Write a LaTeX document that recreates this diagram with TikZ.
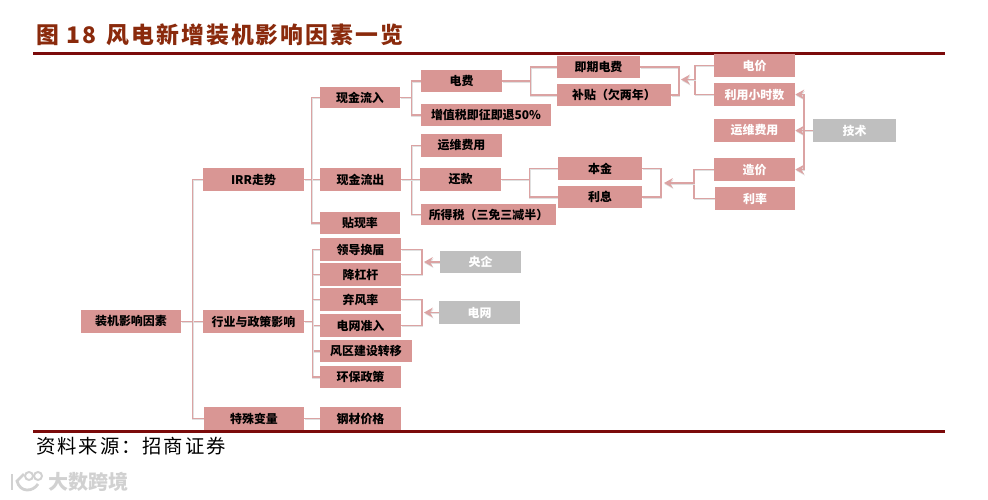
\documentclass[tikz,border=0pt]{standalone}
\usepackage{fontspec}
\usepackage{xcolor}
\usepackage{tikz}
\usetikzlibrary{arrows.meta, positioning}
\setmainfont{Noto Sans CJK SC}
\newfontfamily\titlefont[LetterSpace=9]{Noto Sans CJK SC}
\newfontfamily\sourcefont[LetterSpace=10]{Noto Sans CJK SC}
\definecolor{boxred}{HTML}{D99694}
\definecolor{linkred}{HTML}{DBA3A3}
\definecolor{rulered}{HTML}{7B0A0A}
\definecolor{titlered}{HTML}{8A2A0C}
\definecolor{boxgray}{HTML}{BFBFBF}

\begin{document}
\begin{tikzpicture}[
  x=0.02cm, y=-0.02cm,
  >={Stealth[length=5pt, width=5.5pt]},
  factor/.style={rectangle, fill=boxred, inner sep=0pt, minimum width=1.62cm, minimum height=0.46cm, font=\fontsize{6.8pt}{8pt}\selectfont\bfseries, align=center},
  driver/.style={factor, text=white},
  external/.style={driver, fill=boxgray},
  link/.style={draw=linkred, line width=0.8pt, preaction={draw=black!12, line width=0.8pt, transform canvas={xshift=0.4pt, yshift=-0.7pt}}},
  push/.style={link, ->, line width=1.1pt},
]
  \useasboundingbox (0,0) rectangle (988,500);

  \node[anchor=west, inner sep=0pt, text=titlered, font=\fontsize{13pt}{15pt}\selectfont\titlefont\bfseries] (title) at (36,35) {图 18\hspace{0.45em}风电新增装机影响因素一览};
  \draw[rulered, line width=1.5pt] (33,53.5) coordinate (topleft) -- (945,53.5) coordinate (topright);

  \node[factor, minimum width=2cm] (root) at (131,321.5) {装机影响因素};
  \node[factor, minimum width=2.02cm] (irr) at (253.5,179.5) {IRR走势};
  \node[factor, minimum width=2.02cm] (policy) at (253.5,321.5) {行业与政策影响};
  \node[factor, minimum width=2cm] (special) at (254,418.5) {特殊变量};

  \node[factor, minimum width=1.6cm, minimum height=0.42cm] (inflow) at (360,97.5) {现金流入};
  \node[factor] (outflow) at (360.5,179.5) {现金流出};
  \node[factor, minimum width=1.6cm, minimum height=0.44cm] (discount) at (360,223) {贴现率};

  \node[factor, minimum height=0.44cm] (fee) at (461.5,81) {电费};
  \node[factor, minimum width=2.6cm, minimum height=0.44cm] (vat) at (486,115) {增值税即征即退50\%};
  \node[factor] (om) at (461.5,145.5) {运维费用};
  \node[factor] (repay) at (460.5,179.5) {还款};
  \node[factor, minimum width=2.7cm, minimum height=0.42cm] (tax) at (488.5,214.5) {所得税（三免三减半）};

  \node[factor, minimum width=1.66cm, minimum height=0.44cm] (spot) at (598.5,67) {即期电费};
  \node[factor, minimum width=2.28cm, minimum height=0.44cm] (subsidy) at (614,95) {补贴（欠两年）};
  \node[factor, minimum width=1.68cm] (principal) at (600,168.5) {本金};
  \node[factor, minimum width=1.68cm, minimum height=0.44cm] (interest) at (600,197) {利息};

  \node[driver] (price) at (754.5,65.5) {电价};
  \node[driver] (hours) at (754.5,94.5) {利用小时数};
  \node[driver] (omcost) at (754.5,130.5) {运维费用};
  \node[driver] (cost) at (754.5,169.5) {造价};
  \node[driver, minimum width=1.6cm] (rate) at (755,198.5) {利率};
  \node[external, minimum width=1.66cm] (tech) at (854.5,130.5) {技术};

  \node[factor] (leader) at (360.5,249.5) {领导换届};
  \node[factor] (deleverage) at (360.5,274.5) {降杠杆};
  \node[factor] (curtail) at (360.5,299.5) {弃风率};
  \node[factor] (access) at (360.5,325.5) {电网准入};
  \node[factor, minimum width=1.84cm, minimum height=0.44cm] (zone) at (366,351) {风区建设转移};
  \node[factor, minimum height=0.44cm] (env) at (360.5,377) {环保政策};
  \node[factor] (steel) at (360.5,418.5) {钢材价格};

  \node[external, minimum height=0.44cm] (soe) at (480.5,262) {央企};
  \node[external] (grid) at (479.5,312.5) {电网};

  \coordinate (payback) at (679,79.5);
  \coordinate (paytip) at (681,79.5);
  \coordinate (loanback) at (661,183);
  \coordinate (loantip) at (664,183);
  \coordinate (pricebus) at (695,79.5);
  \coordinate (costbus) at (694,183);
  \coordinate (techbus) at (804,130.5);
  \coordinate (soebus) at (422,262);
  \coordinate (soetip) at (424,262);
  \coordinate (gridbus) at (422,312.5);
  \coordinate (gridtip) at (424,312.5);

  \draw[link] (root) -- (policy);
  \foreach \target in {irr, special}
    \draw[link] (root.east) -- ++(11,0) |- (\target.west);

  \draw[link] (irr) -- (outflow);
  \foreach \target in {inflow, discount}
    \draw[link] (irr.east) -- ++(7,0) |- (\target.west);

  \foreach \target in {fee, vat}
    \draw[link] (inflow.east) -- ++(11,0) |- (\target.west);
  \foreach \target in {om, tax}
    \draw[link] (outflow.east) -- ++(10,0) |- (\target.west);
  \draw[link] (outflow) -- (repay);

  \foreach \target in {spot, subsidy}
    \draw[link] (fee.east) -- ++(28,0) |- (\target.west);
  \foreach \target in {principal, interest}
    \draw[link] (repay.east) -- ++(28,0) |- (\target.west);

  \foreach \target in {leader, deleverage, curtail, access, zone, env}
    \draw[link] (policy.east) -- ++(8,0) |- (\target.west);
  \draw[link] (special) -- (steel);

  \foreach \source in {spot, subsidy}
    \draw[link] (\source.east) -| (payback);
  \foreach \source in {principal, interest}
    \draw[link] (\source.east) -| (loanback);
  \foreach \source in {price, hours}
    \draw[link] (\source.west) -| (pricebus);
  \foreach \source in {cost, rate}
    \draw[link] (\source.west) -| (costbus);
  \foreach \source in {leader, deleverage}
    \draw[link] (\source.east) -| (soebus);
  \foreach \source in {curtail, access}
    \draw[link] (\source.east) -| (gridbus);

  \draw[push] (pricebus) -- (paytip);
  \draw[push] (costbus) -- (loantip);
  \draw[push] (soe) -- (soetip);
  \draw[push] (grid) -- (gridtip);
  \draw[push] (tech) -- (omcost);
  \foreach \target in {hours, cost}
    \draw[push] (techbus) |- (\target.east);

  \draw[rulered, line width=1.5pt] (33,431.5) coordinate (bottomleft) -- (945,431.5) coordinate (bottomright);
  \node[anchor=west, inner sep=0pt, font=\fontsize{11pt}{13pt}\selectfont\sourcefont] (source) at (36,446) {资料来源：招商证券};

  \node[anchor=west, inner sep=0pt, text=black!18, font=\fontsize{11.4pt}{13pt}\selectfont\bfseries] (mark) at (48,482) {大数跨境};
  \draw[black!18, line width=1.6pt] (12,474) -- (12,490);
  \draw[black!18, line width=1.6pt] (24,474) -- (17,481) .. controls (20,493) and (33,492) .. (38,484);
  \draw[black!18, line width=1.1pt] (29,476) circle (4);
  \draw[black!18, line width=1.1pt] (38,476) circle (4);
\end{tikzpicture}
\end{document}
